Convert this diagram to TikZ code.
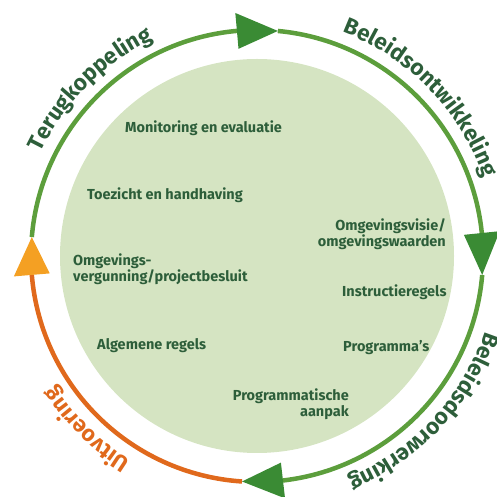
\documentclass[tikz,border=0pt]{standalone}
\usepackage{fontspec}
\setmainfont{Fira Sans}
\usetikzlibrary{decorations.text}
\definecolor{circfill}{HTML}{D5E4C2}
\definecolor{arcg}{HTML}{5C9E3C}
\definecolor{arrowg}{HTML}{3A8B34}
\definecolor{arco}{HTML}{E0691C}
\definecolor{arrowo}{HTML}{F4A023}
\definecolor{textg}{HTML}{2D5E3A}
\newcommand\curvefont{\bfseries\fontsize{22.5}{22.5}\selectfont}
\tikzset{
  ringg/.style={draw=arcg, line width=4.5pt},
  ringo/.style={draw=arco, line width=4.5pt},
  inner/.style={text=textg, font=\bfseries\fontsize{14.5}{16}\selectfont, inner sep=0pt},
  curved/.style={decorate, decoration={text along path, text align=center, text color=#1}},
}
\begin{document}
\begin{tikzpicture}[x=1pt,y=1pt]
\useasboundingbox (0,0) rectangle (496,497);
\coordinate (C) at (257,241);
\fill[circfill] (C) circle[radius=197];
% arrow end points on the ring
\coordinate (topbase) at ([shift={(95.1:226)}]C);
\coordinate (toptip) at ([shift={(84.7:226)}]C);
\coordinate (rightbase) at ([shift={(5.84:226)}]C);
\coordinate (righttip) at ([shift={(-4.82:226)}]C);
\coordinate (botbase) at ([shift={(-83.4:226)}]C);
\coordinate (bottip) at ([shift={(-93.8:226)}]C);
\coordinate (leftbase) at ([shift={(184.8:226)}]C);
\coordinate (lefttip) at ([shift={(175.2:226)}]C);
% arcs
\draw[ringg] (lefttip) arc[start angle=175.2, end angle=95.1, radius=226];
\draw[ringg] (toptip) arc[start angle=84.7, end angle=5.84, radius=226];
\draw[ringg] (righttip) arc[start angle=-4.82, end angle=-83.4, radius=226];
\draw[ringo] (bottip) arc[start angle=-93.8, end angle=-175.2, radius=226];
% arrowheads
\fill[arrowg] ([shift={(95.1:208)}]C) -- ([shift={(95.1:244)}]C) -- (toptip) -- cycle;
\fill[arrowg] ([shift={(5.84:208)}]C) -- ([shift={(5.84:244)}]C) -- (righttip) -- cycle;
\fill[arrowg] ([shift={(-83.4:208)}]C) -- ([shift={(-83.4:244)}]C) -- (bottip) -- cycle;
\fill[arrowo] ([shift={(184.8:208)}]C) -- ([shift={(184.8:244)}]C) -- (lefttip) -- cycle;
% curved labels
\path[curved=textg, decoration={text={|\curvefont|Terugkoppeling}}]
  ([shift={(177:240)}]C) arc[start angle=177, end angle=93, radius=240];
\path[curved=textg, decoration={text={|\curvefont|Beleidsontwikkeling}}]
  ([shift={(86:240)}]C) arc[start angle=86, end angle=2, radius=240];
\path[curved=textg, decoration={text={|\curvefont|Beleidsdoorwerking}}]
  ([shift={(-1:240)}]C) arc[start angle=-1, end angle=-85, radius=240];
\path[curved=arco, decoration={text={|\curvefont|Uitvoering}}]
  ([shift={(-102.5:240)}]C) arc[start angle=-102.5, end angle=-166.5, radius=240];
% inner labels
\node[inner, anchor=base west] (mon) at (125,364) {Monitoring en evaluatie};
\node[inner, anchor=base west] (toe) at (87,297) {Toezicht en handhaving};
\node[inner, anchor=base west, align=left] (omv) at (73,215) {Omgevings-\\vergunning/projectbesluit};
\node[inner, anchor=base east, align=right] (ovis) at (446,250) {Omgevingsvisie/\\omgevingswaarden};
\node[inner, anchor=base west] (ins) at (342,200) {Instructieregels};
\node[inner, anchor=base west] (alg) at (97,147) {Algemene regels};
\node[inner, anchor=base west] (prg) at (343,145) {Programma’s};
\node[inner, anchor=base east, align=right] (pra) at (349,80) {Programmatische\\aanpak};
\end{tikzpicture}
\end{document}
